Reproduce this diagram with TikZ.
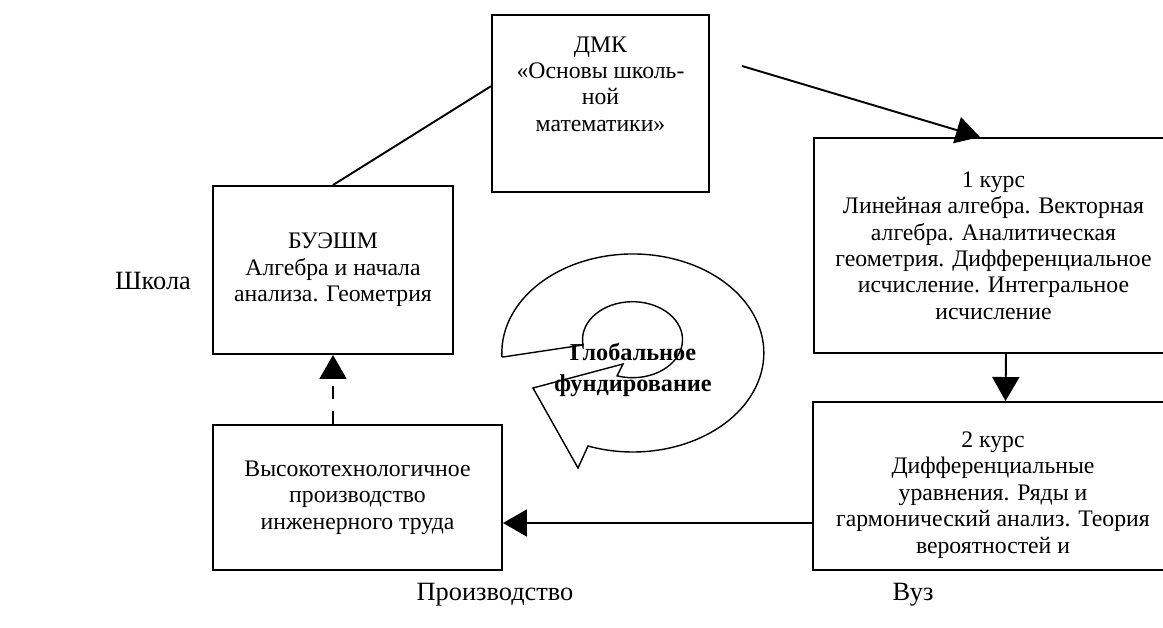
\documentclass[tikz,border=0pt]{standalone}
\usepackage{fontspec}
\setmainfont{Liberation Serif}
\usepackage{tikz}
\usetikzlibrary{arrows.meta}
\usetikzlibrary{calc}

\newcommand{\pxu}{0.02cm}
\newcommand{\boxfont}{\fontsize{13.5pt}{15pt}\selectfont}
\newcommand{\labfont}{\fontsize{15pt}{17.5pt}\selectfont}
\tikzset{
    box/.style={draw, line width=1.1pt, inner sep=0pt, align=center, font=\boxfont},
    txt/.style={inner sep=0pt, align=center, font=\boxfont},
    lab/.style={inner sep=0pt, font=\labfont},
    bigtip/.style={-{Triangle[length=0.48cm, width=0.54cm]}},
}

\begin{document}
\begin{tikzpicture}[x=0.02cm, y=-0.02cm, line width=1.1pt]
        \useasboundingbox (0,0) rectangle (1163,628);
        \clip (0,0) rectangle (1163,628);
        \node [box, minimum width=217*\pxu, minimum height=177*\pxu] (dmk) at (600.5,103.5) {};
        \node [txt] (dmktext) at (600.5,84) {ДМК\\«Основы школь-\\ной\\математики»};
        \node [box, minimum width=240*\pxu, minimum height=168*\pxu] (buesm) at (333,270) {БУЭШМ\\Алгебра и начала\\анализа. Геометрия};
        \node [box, minimum width=289*\pxu, minimum height=145*\pxu] (prod) at (357.5,497.5) {Высокотехнологичное\\производство\\инженерного труда};
        \node [box, minimum width=359*\pxu, minimum height=215*\pxu] (kurs1) at (993.5,245.5) {1 курс\\Линейная алгебра. Векторная\\алгебра. Аналитическая\\геометрия. Дифференциальное\\исчисление. Интегральное\\исчисление};
        \node [box, minimum width=360*\pxu, minimum height=168*\pxu] (kurs2) at (993,486) {};
        \node [txt] (kurs2text) at (993,495) {2 курс\\Дифференциальные\\уравнения. Ряды и\\гармонический анализ. Теория\\вероятностей и};
        \coordinate (dmkout) at (742,66);
        \coordinate (k2out) at ($(kurs2.west)+(0,37)$);
        \draw (buesm.north) -- (dmk.171);
        \draw [bigtip] (dmkout) -- ($(kurs1.north)+(-13.5,0)$);
        \draw [bigtip] ($(kurs1.south)+(12.5,0)$) -- ($(kurs2.north)+(12.5,0)$);
        \draw [bigtip] (k2out) -- (k2out -| prod.east);
        \draw [bigtip, dash pattern=on 0.26cm off 0.24cm] (buesm.south |- prod.north) -- (buesm.south);
        \draw [line width=0.8pt] (503,357) -- (583,345)
            arc [start angle=172, end angle=468, x radius=50, y radius=38]
            -- (623,364) -- (533,388) -- (578,468) -- (588,446)
            arc [start angle=110, end angle=-182, x radius=131, y radius=99] -- cycle;
        \node [txt, font=\bfseries\fontsize{13.8pt}{17.6pt}\selectfont] (glob) at (633,370) {Глобальное\\фундирование};
        \node [lab] (school) at (153,281) {Школа};
        \node [lab] (factory) at (495,595) {Производство};
        \node [lab] (univ) at (913,595) {Вуз};
\end{tikzpicture}
\end{document}
